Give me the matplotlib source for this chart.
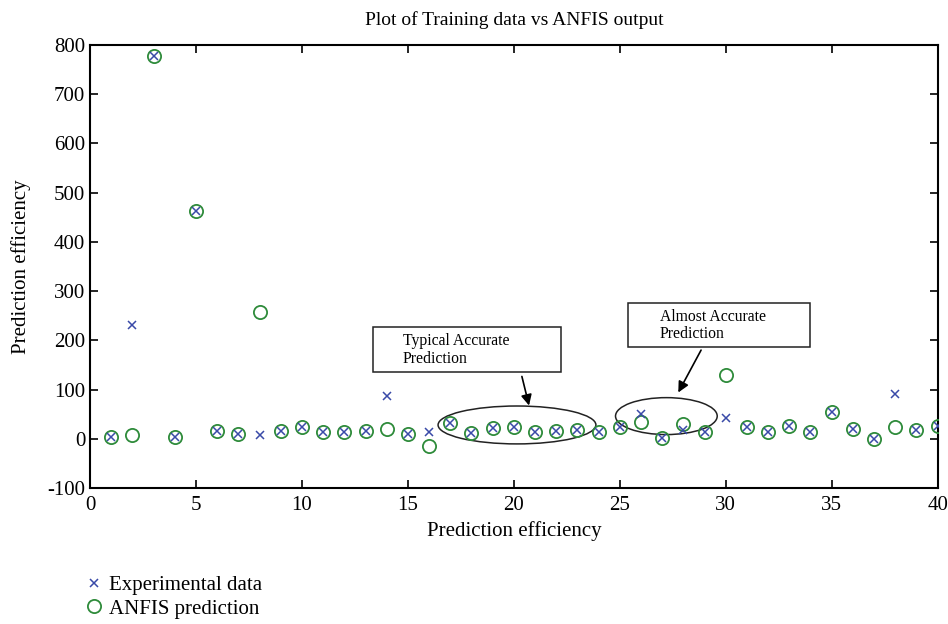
import matplotlib.pyplot as plt
import numpy as np
from matplotlib.patches import Ellipse

plt.rcParams['font.family'] = ['Liberation Serif', 'DejaVu Serif']
plt.rcParams['axes.unicode_minus'] = False

# sample index 1..40
idx = np.arange(1, 41)

# Experimental data (blue x)
experimental = [4, 231, 777, 4, 463, 16, 10, 8, 16, 24,
                14, 14, 16, 87, 10, 14, 32, 12, 22, 24,
                14, 16, 18, 14, 24, 50, 2, 18, 14, 42,
                24, 14, 26, 14, 54, 20, 0, 90, 18, 26]

# ANFIS prediction (green o)
anfis = [4, 8, 777, 4, 463, 16, 10, 258, 16, 24,
         14, 14, 16, 20, 10, -14, 32, 12, 22, 24,
         14, 16, 18, 14, 24, 34, 2, 30, 14, 130,
         24, 14, 26, 14, 54, 20, 0, 24, 18, 26]

blue = '#3a4aa8'
green = '#2e8b3a'

fig = plt.figure(figsize=(9.48, 6.24), dpi=100)
ax = fig.add_axes([0.095, 0.218, 0.894, 0.710])

ax.plot(idx, anfis, 'o', ms=9.5, mfc='none', mec=green, mew=1.3,
        label='ANFIS prediction', zorder=3)
ax.plot(idx, experimental, 'x', ms=6, color=blue, mew=1.1,
        label='Experimental data', zorder=4)

ax.set_xlim(0, 40)
ax.set_ylim(-100, 800)
ax.set_xticks(np.arange(0, 41, 5))
ax.set_yticks(np.arange(-100, 801, 100))
ax.tick_params(direction='in', top=True, right=True, length=6, width=1.2,
               labelsize=15, colors='black')
ax.tick_params(axis='x', pad=6)
for s in ax.spines.values():
    s.set_linewidth(1.5)

ax.set_title('Plot of Training data vs ANFIS output', fontsize=14, pad=14)
ax.set_xlabel('Prediction efficiency', fontsize=15, labelpad=4)
ax.set_ylabel('Prediction efficiency', fontsize=15, labelpad=12)

# highlight ellipses
ax.add_patch(Ellipse((20.15, 28), 7.45, 77, fill=False, ec='#222222', lw=1.1, zorder=2))
ax.add_patch(Ellipse((27.2, 46), 4.8, 75, fill=False, ec='#222222', lw=1.1, zorder=2))

# annotation boxes
ax.add_patch(plt.Rectangle((13.35, 135), 8.9, 92, fc='white', ec='#222222',
                           lw=1.1, zorder=1))
ax.text(14.75, 180, 'Typical Accurate\nPrediction', fontsize=11.3, ha='left', va='center',
        linespacing=1.15)
ax.add_patch(plt.Rectangle((25.38, 186), 8.6, 90, fc='white', ec='#222222',
                           lw=1.1, zorder=1))
ax.text(26.9, 230, 'Almost Accurate\nPrediction', fontsize=11.3, ha='left', va='center',
        linespacing=1.15)

arrow = dict(arrowstyle='-|>', color='black', lw=1.2, mutation_scale=16)
ax.annotate('', xy=(20.75, 62), xytext=(20.35, 132), arrowprops=arrow)
ax.annotate('', xy=(27.7, 89), xytext=(28.9, 185), arrowprops=arrow)

fig.legend(handles=ax.get_lines()[::-1], loc='lower left', bbox_to_anchor=(0.08, -0.005),
           frameon=False, fontsize=15, handlelength=0.9, handletextpad=0.3,
           labelspacing=0.2, borderaxespad=0.0)

fig.savefig('out.png', dpi=100)
